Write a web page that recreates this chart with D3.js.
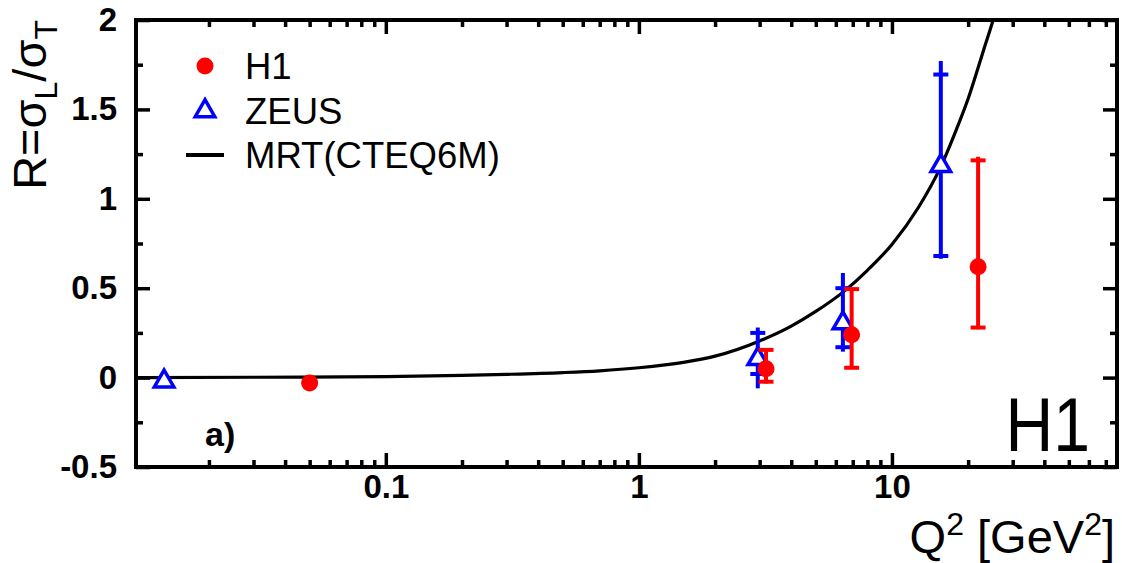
<!DOCTYPE html>
<html>
<head>
<meta charset="utf-8">
<script src="https://cdn.jsdelivr.net/npm/d3@7"></script>
<style>
html,body{margin:0;padding:0;background:#fff;}
svg{display:block;font-family:"Liberation Sans",Arial,sans-serif;}
</style>
</head>
<body>
<svg id="chart" width="1122" height="563"></svg>
<script>
// ---- data ----
const xMajorTicks = [0.1, 1, 10];
const xMajorLabels = ["0.1", "1", "10"];
const xMinorTicks = [0.02,0.03,0.04,0.05,0.06,0.07,0.08,0.09,0.2,0.3,0.4,0.5,0.6,0.7,0.8,0.9,2,3,4,5,6,7,8,9,20,30,40,50,60,70];
const yMajorTicks = [-0.5, 0, 0.5, 1, 1.5, 2];
const yMajorLabels = ["-0.5", "0", "0.5", "1", "1.5", "2"];
const yMinorTicks = [-0.25, 0.25, 0.75, 1.25, 1.75];

// H1 data: Q2, R, cap (stat) high/low, bar (total) high/low
const h1Q2 = [0.05, 3.18, 6.93, 21.9];
const h1R = [-0.03, 0.05, 0.24, 0.62];
const h1CapHi = [null, 0.155, 0.495, 1.215];
const h1CapLo = [null, -0.023, 0.055, 0.28];
const h1BarHi = [null, 0.165, 0.50, 1.235];
const h1BarLo = [null, -0.033, 0.05, 0.27];

// ZEUS data
const zeusQ2 = [0.0133, 2.95, 6.4, 15.6];
const zeusR = [-0.015, 0.11, 0.31, 1.19];
const zeusCapHi = [null, 0.25, 0.50, 1.695];
const zeusCapLo = [null, 0.02, 0.17, 0.68];
const zeusBarHi = [null, 0.28, 0.585, 1.77];
const zeusBarLo = [null, -0.06, 0.145, 0.665];

// MRT (CTEQ6M) curve
const mrtQ2 = [0.0103, 0.03, 0.1, 0.2, 0.3, 0.5, 0.7, 1, 1.5, 2, 3, 4, 5, 6.5, 8, 10, 12.7, 15.6, 18, 20, 23, 25.6, 27];
const mrtR  = [0.0, 0.002, 0.006, 0.012, 0.018, 0.028, 0.038, 0.055, 0.085, 0.12, 0.205, 0.288, 0.37, 0.485, 0.6, 0.745, 0.95, 1.18, 1.39, 1.56, 1.83, 2.04, 2.16];

const legendLabels = ["H1", "ZEUS", "MRT(CTEQ6M)"];

// ---- layout ----
const svg = d3.select("#chart");
const L = 136, R = 1117, T = 20, B = 467;
const x = d3.scaleLog().domain([0.0103, 77.5]).range([L, R]);
const y = d3.scaleLinear().domain([-0.5, 2]).range([B, T]);
const RED = "#ff0000", BLUE = "#0000ff";

svg.append("defs").append("clipPath").attr("id","clip")
  .append("rect").attr("x", L).attr("y", T).attr("width", R - L).attr("height", B - T);

// curve
const line = d3.line().x(d => x(d[0])).y(d => y(d[1])).curve(d3.curveMonotoneX);
svg.append("path")
  .datum(mrtQ2.map((q, i) => [q, mrtR[i]]))
  .attr("clip-path", "url(#clip)")
  .attr("d", line)
  .attr("fill", "none").attr("stroke", "#000").attr("stroke-width", 3.2);

// axes ticks
function styleAxis(g) {
  g.select(".domain").remove();
  g.selectAll(".tick line").attr("stroke", "#000").attr("stroke-width", 3.5);
  g.selectAll(".tick text").attr("fill", "#000").attr("font-weight", "bold").attr("font-size", 33);
}
// bottom
svg.append("g").attr("transform", `translate(0,${B})`)
  .call(d3.axisBottom(x).tickValues(xMajorTicks).tickSizeInner(-14).tickSizeOuter(0)
        .tickFormat((d, i) => xMajorLabels[i]))
  .call(styleAxis)
  .call(g => g.selectAll(".tick text").attr("y", 31).attr("dy", 0));
svg.append("g").attr("transform", `translate(0,${B})`)
  .call(d3.axisBottom(x).tickValues(xMinorTicks).tickSizeInner(-7).tickSizeOuter(0).tickFormat(""))
  .call(styleAxis);
// top
svg.append("g").attr("transform", `translate(0,${T})`)
  .call(d3.axisTop(x).tickValues(xMajorTicks).tickSizeInner(-14).tickSizeOuter(0).tickFormat(""))
  .call(styleAxis);
svg.append("g").attr("transform", `translate(0,${T})`)
  .call(d3.axisTop(x).tickValues(xMinorTicks).tickSizeInner(-7).tickSizeOuter(0).tickFormat(""))
  .call(styleAxis);
// left
svg.append("g").attr("transform", `translate(${L},0)`)
  .call(d3.axisLeft(y).tickValues(yMajorTicks).tickSizeInner(-14).tickSizeOuter(0).tickPadding(19)
        .tickFormat((d, i) => yMajorLabels[i]))
  .call(styleAxis);
svg.append("g").attr("transform", `translate(${L},0)`)
  .call(d3.axisLeft(y).tickValues(yMinorTicks).tickSizeInner(-7).tickSizeOuter(0).tickFormat(""))
  .call(styleAxis);
// right
svg.append("g").attr("transform", `translate(${R},0)`)
  .call(d3.axisRight(y).tickValues(yMajorTicks).tickSizeInner(-14).tickSizeOuter(0).tickFormat(""))
  .call(styleAxis);
svg.append("g").attr("transform", `translate(${R},0)`)
  .call(d3.axisRight(y).tickValues(yMinorTicks).tickSizeInner(-7).tickSizeOuter(0).tickFormat(""))
  .call(styleAxis);

// frame
svg.append("rect").attr("x", L).attr("y", T).attr("width", R - L).attr("height", B - T)
  .attr("fill", "none").attr("stroke", "#000").attr("stroke-width", 4);

// error bars
function errBars(q, v, capHi, capLo, barHi, barLo, color) {
  const g = svg.append("g");
  q.forEach((qq, i) => {
    if (barHi[i] == null) return;
    const cx = x(qq);
    g.append("line").attr("x1", cx).attr("x2", cx).attr("y1", y(barHi[i])).attr("y2", y(barLo[i]))
      .attr("stroke", color).attr("stroke-width", 4);
    [capHi[i], capLo[i]].forEach(c => {
      g.append("line").attr("x1", cx - 7.5).attr("x2", cx + 7.5).attr("y1", y(c)).attr("y2", y(c))
        .attr("stroke", color).attr("stroke-width", 4);
    });
  });
}
const tri = d3.symbol().type(d3.symbolTriangle).size(165);

errBars(zeusQ2, zeusR, zeusCapHi, zeusCapLo, zeusBarHi, zeusBarLo, BLUE);
svg.append("g").selectAll("path").data(zeusQ2).join("path")
  .attr("d", tri)
  .attr("transform", (d, i) => `translate(${x(d)},${y(zeusR[i]) + 1})`)
  .attr("fill", "#fff").attr("stroke", BLUE).attr("stroke-width", 3.5);

errBars(h1Q2, h1R, h1CapHi, h1CapLo, h1BarHi, h1BarLo, RED);
svg.append("g").selectAll("circle").data(h1Q2).join("circle")
  .attr("cx", d => x(d)).attr("cy", (d, i) => y(h1R[i])).attr("r", 8.5)
  .attr("fill", RED);

// legend
const lg = svg.append("g");
lg.append("circle").attr("cx", 205).attr("cy", 66).attr("r", 8.5).attr("fill", RED);
lg.append("path").attr("d", tri).attr("transform", "translate(205,111)")
  .attr("fill", "#fff").attr("stroke", BLUE).attr("stroke-width", 3.5);
lg.append("line").attr("x1", 186).attr("x2", 224).attr("y1", 155).attr("y2", 155)
  .attr("stroke", "#000").attr("stroke-width", 4);
legendLabels.forEach((t, i) => {
  lg.append("text").attr("x", 245).attr("y", 79 + i * 44.5).attr("font-size", 36.5).attr("fill", "#000").text(t);
});

// annotations
svg.append("text").attr("x", 205).attr("y", 446).attr("font-size", 34).attr("font-weight", "bold").text("a)");
svg.append("text").attr("transform", "translate(1090,451) scale(0.87,1)")
  .attr("text-anchor", "end").attr("font-size", 76).text("H1");

// axis titles
const xt = svg.append("text").attr("x", 1115).attr("y", 553).attr("text-anchor", "end").attr("font-size", 47);
xt.append("tspan").text("Q");
xt.append("tspan").attr("font-size", 32).attr("dy", -18).text("2");
xt.append("tspan").attr("dy", 18).text(" [GeV");
xt.append("tspan").attr("font-size", 32).attr("dy", -18).text("2");
xt.append("tspan").attr("dy", 18).text("]");

const yt = svg.append("text").attr("transform", "translate(46,20) rotate(-90)")
  .attr("text-anchor", "end").attr("font-size", 47);
yt.append("tspan").text("R=σ");
yt.append("tspan").attr("font-size", 32).attr("dy", 11).text("L");
yt.append("tspan").attr("dy", -11).text("/σ");
yt.append("tspan").attr("font-size", 32).attr("dy", 11).text("T");
</script>
</body>
</html>
